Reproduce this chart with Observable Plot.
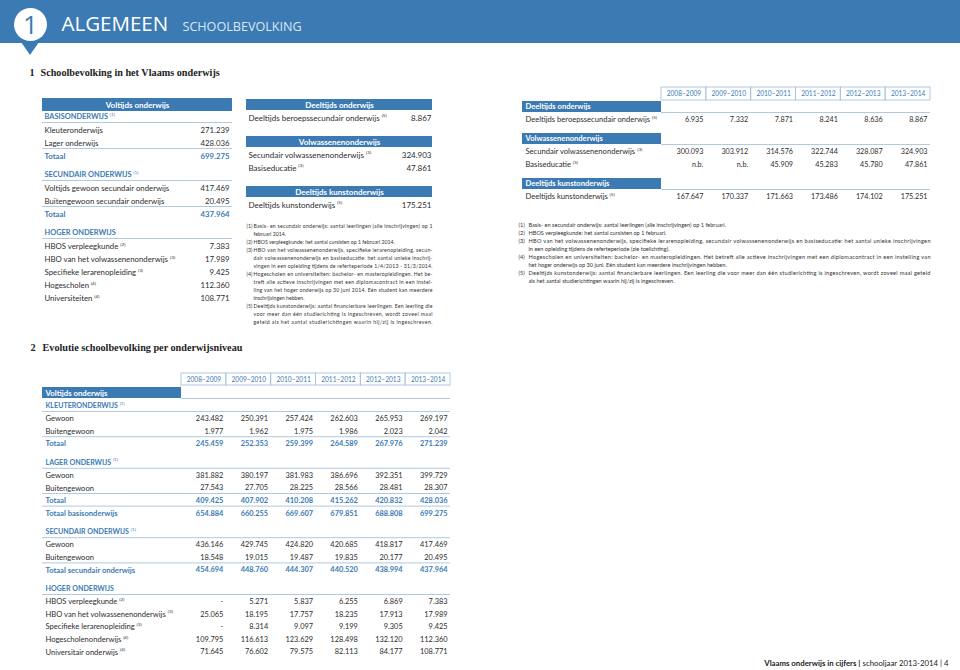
<!DOCTYPE html>
<html><head><meta charset="utf-8">
<script src="https://cdn.jsdelivr.net/npm/d3@7"></script>
<script src="https://cdn.jsdelivr.net/npm/@observablehq/plot@0.6"></script>
<style>body{margin:0;background:#fff;overflow:hidden}</style>
</head><body>
<script>
// ---------------- DATA ----------------
const years = ["2008–2009","2009–2010","2010–2011","2011–2012","2012–2013","2013–2014"];

// Table 1 (left): Voltijds onderwijs, schooljaar 2013-2014
const basisLabels = ["Kleuteronderwijs","Lager onderwijs"];
const basisValues = [271239, 428036];
const basisTotal = 699275;
const secLabels = ["Voltijds gewoon secundair onderwijs","Buitengewoon secundair onderwijs"];
const secValues = [417469, 20495];
const secTotal = 437964;
const hogerLabels = ["HBOS verpleegkunde","HBO van het volwassenenonderwijs","Specifieke lerarenopleiding","Hogescholen","Universiteiten"];
const hogerNotes = [2,3,3,4,4];
const hogerValues = [7383, 17989, 9425, 112360, 108771];

// Table 1 (middle)
const deeltijdsLabels = ["Deeltijds beroepssecundair onderwijs"];
const deeltijdsNotes = [5];
const deeltijdsValues = [8867];
const volwLabels = ["Secundair volwassenenonderwijs","Basiseducatie"];
const volwNotes = [3,3];
const volwValues = [324903, 47861];
const kunstLabels = ["Deeltijds kunstonderwijs"];
const kunstNotes = [5];
const kunstValues = [175251];

// Table 1 (right): evolution
const deeltijdsSeries = [[6935, 7332, 7871, 8241, 8636, 8867]];
const volwSeries = [[300093, 303912, 314576, 322744, 328087, 324903],
                    [null, null, 45909, 45283, 45780, 47861]];
const kunstSeries = [[167647, 170337, 171663, 173486, 174102, 175251]];

// Table 2: Evolutie schoolbevolking per onderwijsniveau
const kleuterLabels = ["Gewoon","Buitengewoon"];
const kleuterSeries = [[243482, 250391, 257424, 262603, 265953, 269197],
                       [1977, 1962, 1975, 1986, 2023, 2042]];
const kleuterTotal = [245459, 252353, 259399, 264589, 267976, 271239];
const lagerLabels = ["Gewoon","Buitengewoon"];
const lagerSeries = [[381882, 380197, 381983, 386696, 392351, 399729],
                     [27543, 27705, 28225, 28566, 28481, 28307]];
const lagerTotal = [409425, 407902, 410208, 415262, 420832, 428036];
const basisTotalSeries = [654884, 660255, 669607, 679851, 688808, 699275];
const sec2Labels = ["Gewoon","Buitengewoon"];
const sec2Series = [[436146, 429745, 424820, 420685, 418817, 417469],
                    [18548, 19015, 19487, 19835, 20177, 20495]];
const sec2Total = [454694, 448760, 444307, 440520, 438994, 437964];
const hoger2Labels = ["HBOS verpleegkunde","HBO van het volwassenenonderwijs","Specifieke lerarenopleiding","Hogescholenonderwijs","Universitair onderwijs"];
const hoger2Notes = [2,3,3,4,4];
const hoger2Series = [[null, 5271, 5837, 6255, 6869, 7383],
                      [25065, 18195, 17757, 18235, 17913, 17989],
                      [null, 8314, 9097, 9199, 9305, 9425],
                      [109795, 116613, 123629, 128498, 132120, 112360],
                      [71645, 76602, 79575, 82113, 84177, 108771]];

// Footnotes
const notesMiddle = [
  ["(1)", "Basis- en secundair onderwijs: aantal leerlingen (alle inschrijvingen) op 1", true],
  ["", "februari 2014.", false],
  ["(2)", "HBOS verpleegkunde: het aantal cursisten op 1 februari 2014.", false],
  ["(3)", "HBO van het volwassenenonderwijs, specifieke lerarenopleiding, secun-", true],
  ["", "dair volwassenenonderwijs en basiseducatie: het aantal unieke inschrij-", true],
  ["", "vingen in een opleiding tijdens de referteperiode 1/4/2013 - 31/3/2014.", true],
  ["(4)", "Hogescholen en universiteiten: bachelor- en masteropleidingen. Het be-", true],
  ["", "treft alle actieve inschrijvingen met een diplomacontract in een instel-", true],
  ["", "ling van het hoger onderwijs op 30 juni 2014. Eén student kan meerdere", true],
  ["", "inschrijvingen hebben.", false],
  ["(5)", "Deeltijds kunstonderwijs: aantal financierbare leerlingen. Een leerling die", true],
  ["", "voor meer dan één studierichting is ingeschreven, wordt zoveel maal", true],
  ["", "geteld als het aantal studierichtingen waarin hij/zij is ingeschreven.", true]
];
const notesRight = [
  ["(1)", "Basis- en secundair onderwijs: aantal leerlingen (alle inschrijvingen) op 1 februari.", false],
  ["(2)", "HBOS verpleegkunde: het aantal cursisten op 1 februari.", false],
  ["(3)", "HBO van het volwassenenonderwijs, specifieke lerarenopleiding, secundair volwassenenonderwijs en basiseducatie: het aantal unieke inschrijvingen", true],
  ["", "in een opleiding tijdens de referteperiode (zie toelichting).", false],
  ["(4)", "Hogescholen en universiteiten: bachelor- en masteropleidingen. Het betreft alle actieve inschrijvingen met een diplomacontract in een instelling van", true],
  ["", "het hoger onderwijs op 30 juni. Eén student kan meerdere inschrijvingen hebben.", false],
  ["(5)", "Deeltijds kunstonderwijs: aantal financierbare leerlingen. Een leerling die voor meer dan één studierichting is ingeschreven, wordt zoveel maal geteld", true],
  ["", "als het aantal studierichtingen waarin hij/zij is ingeschreven.", false]
];

// ---------------- LAYOUT ----------------
const BLUE = "#3c7ab4", LIGHT = "#a8c3de", INK = "#2d2d2d";
const SANS = "Lato", SERIF = "Liberation Serif", HEAD = "Open Sans";
const T = [], BARS = [], BOXES = [], RULES = [], JUST = new Map();
const ctx = document.createElement("canvas").getContext("2d");
function measure(s, size, weight, family) {
  ctx.font = `${weight || "normal"} ${size}px "${family || SANS}"`;
  return ctx.measureText(s).width;
}
const BODY = 7.8;
function txt(x, y, text, o = {}) {
  T.push({x, y, text, anchor: o.anchor || "start", size: o.size || BODY,
          weight: o.weight || "normal", fill: o.fill || INK, family: o.family || SANS});
}
function label(x, y, text, note, o = {}) {
  txt(x, y, text, o);
  if (note) {
    const w = measure(text, o.size || BODY, o.weight, o.family);
    txt(x + w + 1.8, y - 2.3, `(${note})`, {size: 4.6, fill: o.fill || INK});
  }
}
const fmt = d3.formatLocale({thousands: ".", grouping: [3], decimal: ","}).format(",d");
function yearBoxes(xb, xe, y1, y2) {
  const w = (xe - xb) / years.length;
  years.forEach((yr, k) => {
    BOXES.push({x1: xb + k * w, x2: xb + (k + 1) * w, y1, y2});
    txt(xb + (k + 0.5) * w, (y1 + y2) / 2, yr, {anchor: "middle", fill: BLUE, size: 6.6});
  });
  return w;
}

// Header band
BARS.push({x1: 0, x2: 960, y1: 0, y2: 43});
const circle = {x: 30, y: 24};
const pointer = [{x: circle.x - 9, y1: 42, y2: 42}, {x: circle.x, y1: 42, y2: 55}, {x: circle.x + 9, y1: 42, y2: 42}];
txt(circle.x, circle.y + 1, "1", {anchor: "middle", fill: BLUE, size: 26, family: HEAD});
txt(61, 24, "ALGEMEEN", {fill: "#fff", size: 20.5, family: HEAD});
txt(182, 26.5, "SCHOOLBEVOLKING", {fill: "#dbe7f3", size: 12.6, family: HEAD});

// Section titles
txt(29, 72, "1", {size: 10.2, weight: "bold", family: SERIF, fill: "#222"});
txt(40, 72, "Schoolbevolking in het Vlaams onderwijs", {size: 10.2, weight: "bold", family: SERIF, fill: "#222"});
txt(30, 347, "2", {size: 10.2, weight: "bold", family: SERIF, fill: "#222"});
txt(42, 347, "Evolutie schoolbevolking per onderwijsniveau", {size: 10.2, weight: "bold", family: SERIF, fill: "#222"});

// Table 1 left
{
  const X0 = 42, X1 = 232, lx = 44, vx = 229, rowH = 13, off = 8, gap = 8;
  BARS.push({x1: X0, x2: X1, y1: 98, y2: 111});
  txt((X0 + X1) / 2, 104.5, "Voltijds onderwijs", {anchor: "middle", fill: "#fff", weight: "bold", size: 8});
  const groups = [
    {title: "BASISONDERWIJS", note: 1, labels: basisLabels, notes: [], values: basisValues, total: basisTotal},
    {title: "SECUNDAIR ONDERWIJS", note: 1, labels: secLabels, notes: [], values: secValues, total: secTotal},
    {title: "HOGER ONDERWIJS", note: 0, labels: hogerLabels, notes: hogerNotes, values: hogerValues, total: null}
  ];
  let y = 111;
  groups.forEach((g, i) => {
    if (i > 0) y += gap;
    label(lx, y + 5.5, g.title, g.note, {weight: "bold", fill: BLUE, size: 7.4});
    y += 11; RULES.push({x1: X0, x2: X1, y});
    g.labels.forEach((lab, j) => {
      label(lx, y + off, lab, g.notes[j]);
      txt(vx, y + off, fmt(g.values[j]), {anchor: "end"});
      y += rowH;
    });
    if (g.total != null) {
      RULES.push({x1: X0, x2: X1, y});
      txt(lx, y + off, "Totaal", {weight: "bold", fill: BLUE});
      txt(vx, y + off, fmt(g.total), {anchor: "end", weight: "bold", fill: BLUE});
      y += rowH;
    }
  });
}

// Table 1 middle
{
  const X0 = 246, X1 = 432, lx = 248, vx = 431, rowH = 13, off = 7.5, gap = 13, barH = 11;
  const groups = [
    {title: "Deeltijds onderwijs", labels: deeltijdsLabels, notes: deeltijdsNotes, values: deeltijdsValues},
    {title: "Volwassenenonderwijs", labels: volwLabels, notes: volwNotes, values: volwValues},
    {title: "Deeltijds kunstonderwijs", labels: kunstLabels, notes: kunstNotes, values: kunstValues}
  ];
  let y = 99;
  groups.forEach((g, i) => {
    if (i > 0) y += gap;
    BARS.push({x1: X0, x2: X1, y1: y, y2: y + barH});
    txt((X0 + X1) / 2, y + barH / 2, g.title, {anchor: "middle", fill: "#fff", weight: "bold", size: 8});
    y += barH;
    g.labels.forEach((lab, j) => {
      label(lx, y + off, lab, g.notes[j], {size: 8});
      txt(vx, y + off, fmt(g.values[j]), {anchor: "end", size: 8});
      y += rowH;
    });
  });
}

// Table 1 right
{
  const X0 = 522, XB = 661, XE = 930, lx = 525, rowH = 13, off = 7, gap = 8, barH = 11;
  const w = yearBoxes(XB, XE, 87, 100);
  const groups = [
    {title: "Deeltijds onderwijs", labels: deeltijdsLabels, notes: deeltijdsNotes, series: deeltijdsSeries},
    {title: "Volwassenenonderwijs", labels: volwLabels, notes: volwNotes, series: volwSeries},
    {title: "Deeltijds kunstonderwijs", labels: kunstLabels, notes: kunstNotes, series: kunstSeries}
  ];
  let y = 101;
  groups.forEach((g, i) => {
    if (i > 0) y += gap;
    BARS.push({x1: X0, x2: XB, y1: y, y2: y + barH});
    txt(lx, y + barH / 2, g.title, {fill: "#fff", weight: "bold", size: 7.6});
    y += barH; RULES.push({x1: XB, x2: XE, y});
    g.labels.forEach((lab, j) => {
      label(lx, y + off, lab, g.notes[j], {size: 7.6});
      g.series[j].forEach((v, k) => txt(XB + (k + 1) * w - 3, y + off, v == null ? "n.b." : fmt(v), {anchor: "end", size: 7.2}));
      y += rowH;
    });
  });
}

// Footnotes
function footnotes(list, xn, xt, xe, y0, step, size) {
  list.forEach(([n, s, j], i) => {
    const y = y0 + i * step;
    if (n) txt(xn, y, n, {size, fill: "#333"});
    txt(xt, y, s, {size, fill: "#333"});
    if (j) JUST.set(s, xe - xt);
  });
}
footnotes(notesMiddle, 246, 253, 432, 226, 8, 5.2);
footnotes(notesRight, 518, 528, 930, 225, 7.9, 5.6);

// Table 2
{
  const X0 = 42, XB = 181, XE = 450, lx = 45, rowH = 12.6, off = 7.2, gap = 8;
  const w = yearBoxes(XB, XE, 373, 385);
  BARS.push({x1: X0, x2: XB, y1: 387, y2: 398});
  txt(lx, 392.5, "Voltijds onderwijs", {fill: "#fff", weight: "bold", size: 7.8});
  RULES.push({x1: XB, x2: XE, y: 398});
  const groups = [
    {title: "KLEUTERONDERWIJS", note: 1, labels: kleuterLabels, notes: [], series: kleuterSeries,
     totals: [["Totaal", kleuterTotal]]},
    {title: "LAGER ONDERWIJS", note: 1, labels: lagerLabels, notes: [], series: lagerSeries,
     totals: [["Totaal", lagerTotal], ["Totaal basisonderwijs", basisTotalSeries]]},
    {title: "SECUNDAIR ONDERWIJS", note: 1, labels: sec2Labels, notes: [], series: sec2Series,
     totals: [["Totaal secundair onderwijs", sec2Total]]},
    {title: "HOGER ONDERWIJS", note: 0, labels: hoger2Labels, notes: hoger2Notes, series: hoger2Series, totals: []}
  ];
  let y = 400;
  groups.forEach((g, i) => {
    if (i > 0) y += gap;
    label(lx, y + 5, g.title, g.note, {weight: "bold", fill: BLUE, size: 7.1});
    y += 11; RULES.push({x1: X0, x2: XE, y});
    g.labels.forEach((lab, j) => {
      label(lx, y + off, lab, g.notes[j], {size: 7.6});
      g.series[j].forEach((v, k) => txt(XB + (k + 1) * w - 3, y + off, v == null ? "-" : fmt(v), {anchor: "end", size: 7.4}));
      y += rowH;
    });
    g.totals.forEach(([lab, vals]) => {
      RULES.push({x1: X0, x2: XE, y});
      txt(lx, y + off, lab, {weight: "bold", fill: BLUE, size: 7.6});
      vals.forEach((v, k) => txt(XB + (k + 1) * w - 3, y + off, fmt(v), {anchor: "end", weight: "bold", fill: BLUE, size: 7.4}));
      y += rowH;
    });
  });
}

// Footer
{
  const size = 7.8, right = 948, y = 663;
  const rest = " schooljaar 2013-2014 | 4";
  txt(right, y, rest, {anchor: "end", size, fill: "#222"});
  txt(right - measure(rest, size), y, "Vlaams onderwijs in cijfers |", {anchor: "end", size, weight: "bold", fill: "#222"});
}

// ---------------- PLOT ----------------
const textMarks = d3.groups(T, d => [d.anchor, d.weight, d.family].join("|")).map(([k, items]) => {
  const [anchor, weight, family] = k.split("|");
  return Plot.text(items, {x: "x", y: "y", text: "text", fontSize: d => d.size, fill: "fill",
                           textAnchor: anchor, fontWeight: weight, fontFamily: family});
});

const svg = Plot.plot({
  width: 960, height: 670, margin: 0,
  x: {domain: [0, 960], range: [0, 960], axis: null},
  y: {domain: [0, 670], range: [0, 670], axis: null},
  color: {type: "identity"},
  marks: [
    Plot.rect(BARS, {x1: "x1", x2: "x2", y1: "y1", y2: "y2", fill: BLUE}),
    Plot.areaY(pointer, {x: "x", y1: "y1", y2: "y2", fill: BLUE}),
    Plot.dot([circle], {x: "x", y: "y", r: 16.5, fill: "#fff", stroke: null}),
    Plot.rect(BOXES, {x1: "x1", x2: "x2", y1: "y1", y2: "y2", fill: "none", stroke: LIGHT, strokeWidth: 0.9}),
    Plot.ruleY(RULES, {y: "y", x1: "x1", x2: "x2", stroke: LIGHT, strokeWidth: 0.9}),
    ...textMarks
  ]
});
// justify footnote lines
d3.select(svg).selectAll("text").each(function () {
  const w = JUST.get(this.textContent);
  if (w) { this.setAttribute("textLength", w); this.setAttribute("lengthAdjust", "spacing"); }
});
document.body.appendChild(svg);
</script>
</body></html>
